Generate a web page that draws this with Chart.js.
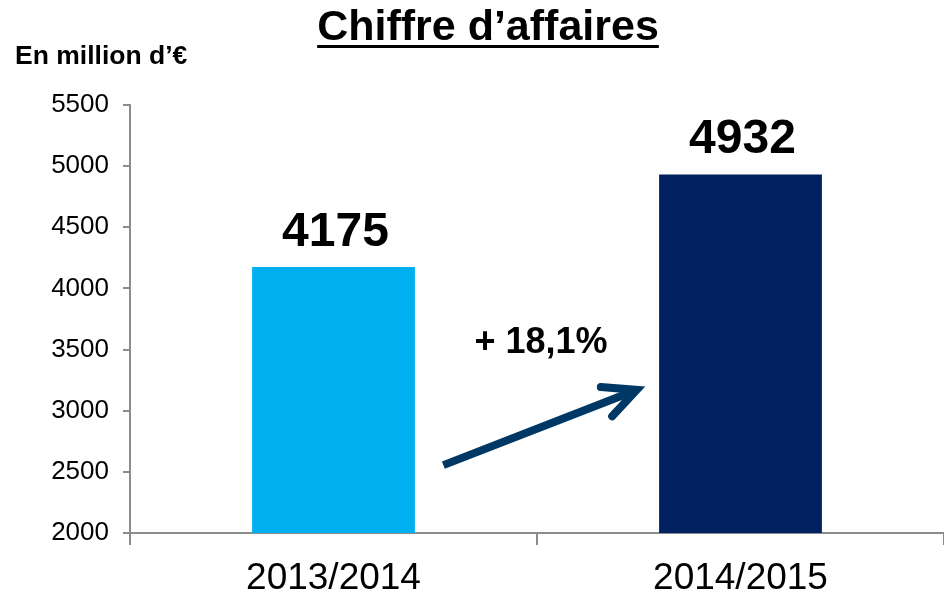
<!DOCTYPE html>
<html>
<head>
<meta charset="utf-8">
<script src="https://cdn.jsdelivr.net/npm/chart.js@4.4.1/dist/chart.umd.min.js"></script>
<style>
  html, body { margin: 0; padding: 0; background: #fff; }
  #wrap { width: 944px; height: 594px; position: relative; }
</style>
</head>
<body>
<div id="wrap"><canvas id="chart"></canvas></div>
<script>
const categories = ['2013/2014', '2014/2015'];
const revenue = [4175, 4932];
const barColors = ['#00B0F0', '#002060'];
const yTicks = [2000, 2500, 3000, 3500, 4000, 4500, 5000, 5500];
const titleText = 'Chiffre d’affaires';
const unitText = 'En million d’€';
const growthText = '+ 18,1%';
// arrow ends and growth label, in data units: [category index, value]
const arrowStart = [0.27, 2555];
const arrowEnd = [0.745, 3170];
const growthPos = [0.51, 3475];

const FONT = '"Liberation Sans", Arial, sans-serif';
const AXIS_GREY = '#8c8c8c';

Chart.defaults.font.family = FONT;
Chart.defaults.color = '#000';

const annotations = {
  id: 'annotations',
  afterDraw(chart) {
    const { ctx } = chart;
    const xs = chart.scales.x;
    const ys = chart.scales.y;
    ctx.save();
    ctx.fillStyle = '#000';
    ctx.textBaseline = 'alphabetic';

    // title, underlined
    ctx.font = `bold 43px ${FONT}`;
    ctx.textAlign = 'center';
    const tx = 488;
    ctx.fillText(titleText, tx, 40);
    const tw = ctx.measureText(titleText).width;
    ctx.fillRect(tx - tw / 2, 45, tw, 3);

    // unit
    ctx.font = `bold 26.5px ${FONT}`;
    ctx.textAlign = 'left';
    ctx.fillText(unitText, 15, 64);

    // value labels above bars
    ctx.font = `bold 48px ${FONT}`;
    ctx.textAlign = 'center';
    const meta = chart.getDatasetMeta(0);
    meta.data.forEach((bar, i) => {
      ctx.fillText(String(revenue[i]), bar.x + 2, bar.y - 21);
    });

    // growth label
    ctx.font = `bold 36px ${FONT}`;
    ctx.fillText(growthText, xs.getPixelForValue(growthPos[0]), ys.getPixelForValue(growthPos[1]));

    // arrow
    const x1 = xs.getPixelForValue(arrowStart[0]);
    const y1 = ys.getPixelForValue(arrowStart[1]);
    const x2 = xs.getPixelForValue(arrowEnd[0]);
    const y2 = ys.getPixelForValue(arrowEnd[1]);
    const ang = Math.atan2(y2 - y1, x2 - x1);
    ctx.strokeStyle = '#003865';
    ctx.lineWidth = 8;
    ctx.lineCap = 'butt';
    ctx.beginPath();
    ctx.moveTo(x1, y1);
    ctx.lineTo(x2 - 3 * Math.cos(ang), y2 - 3 * Math.sin(ang));
    ctx.stroke();
    const head = 36;
    const spread = 0.45;
    ctx.lineCap = 'round';
    ctx.lineJoin = 'miter';
    ctx.beginPath();
    ctx.moveTo(x2 - head * Math.cos(ang - spread), y2 - head * Math.sin(ang - spread));
    ctx.lineTo(x2, y2);
    ctx.lineTo(x2 - head * Math.cos(ang + spread), y2 - head * Math.sin(ang + spread));
    ctx.stroke();

    ctx.restore();
  },
};

new Chart(document.getElementById('chart'), {
  type: 'bar',
  data: {
    labels: categories,
    datasets: [
      {
        data: revenue,
        backgroundColor: barColors,
        barPercentage: 0.4,
        categoryPercentage: 1,
      },
    ],
  },
  options: {
    responsive: true,
    maintainAspectRatio: false,
    animation: false,
    layout: { padding: { top: 105, left: 0, right: 0, bottom: 0 } },
    plugins: {
      legend: { display: false },
      tooltip: { enabled: false },
    },
    scales: {
      x: {
        offset: true,
        grid: {
          offset: true,
          drawOnChartArea: false,
          color: AXIS_GREY,
          tickLength: 12,
          lineWidth: 2,
        },
        border: { color: AXIS_GREY, width: 2 },
        ticks: { font: { size: 37 }, color: '#000', padding: 12 },
        afterFit(scale) { scale.height = 61; },
      },
      y: {
        min: 2000,
        max: 5500,
        grid: {
          drawOnChartArea: false,
          color: AXIS_GREY,
          tickLength: 7,
          lineWidth: 2,
        },
        border: { color: AXIS_GREY, width: 2 },
        ticks: {
          font: { size: 26 },
          color: '#000',
          padding: 14,
          callback: (value) => String(value),
        },
        afterBuildTicks(scale) { scale.ticks = yTicks.map((v) => ({ value: v })); },
        afterFit(scale) { scale.width = 130; },
      },
    },
  },
  plugins: [annotations],
});
</script>
</body>
</html>
